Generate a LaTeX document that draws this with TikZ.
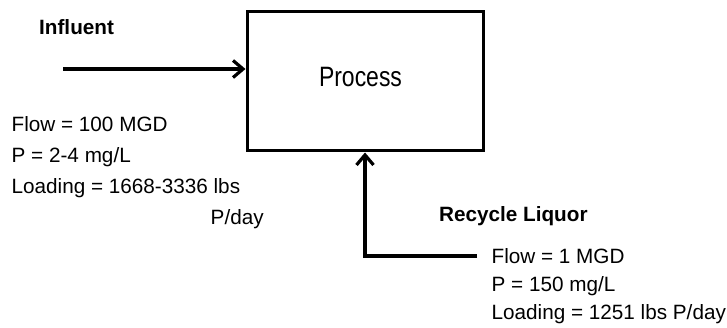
\documentclass[tikz,border=0pt]{standalone}
\usepackage{fontspec}
\setmainfont{Liberation Sans}
\newfontfamily\narrowfont[FakeStretch=0.82]{Liberation Sans}
\usetikzlibrary{arrows.meta}

\begin{document}
\begin{tikzpicture}[x=1pt, y=-1pt,
        flow/.style={line width=3.2pt, -{Straight Barb[length=10pt, width=17pt]}},
        heading/.style={font=\fontsize{20.7}{24}\selectfont\bfseries, inner sep=0pt, anchor=base west},
        datatext/.style={font=\fontsize{20.7}{31}\selectfont, inner sep=0pt, anchor=north west, align=left}]
    \useasboundingbox (0,0) rectangle (727,328);

    % the process box
    \node[draw, line width=3pt, minimum width=236pt, minimum height=139pt,
          font=\narrowfont\fontsize{28}{32}\selectfont, text depth=10pt] (process) at (365,81.5) {Process\hspace*{9pt}};

    % influent
    \coordinate (influent) at (63,69);
    \draw[flow] (influent) -- (influent -| process.west);
    \node[heading] (influentlabel) at (39,35) {Influent};
    \node[datatext] (influentdata) at (11.5,116.5) {Flow = 100 MGD\\ P = 2-4 mg/L\\ Loading = 1668-3336 lbs\\ \hspace*{199pt}P/day};

    % recycle liquor
    \coordinate (recycle) at (477,256);
    \draw[flow] (recycle) -| (process.south);
    \node[heading] (recyclelabel) at (439,221.7) {Recycle Liquor};
    \node[datatext, font=\fontsize{20.7}{28.3}\selectfont] (recycledata) at (491.5,248) {Flow = 1 MGD\\ P = 150 mg/L\\ Loading = 1251 lbs P/day};
\end{tikzpicture}
\end{document}
